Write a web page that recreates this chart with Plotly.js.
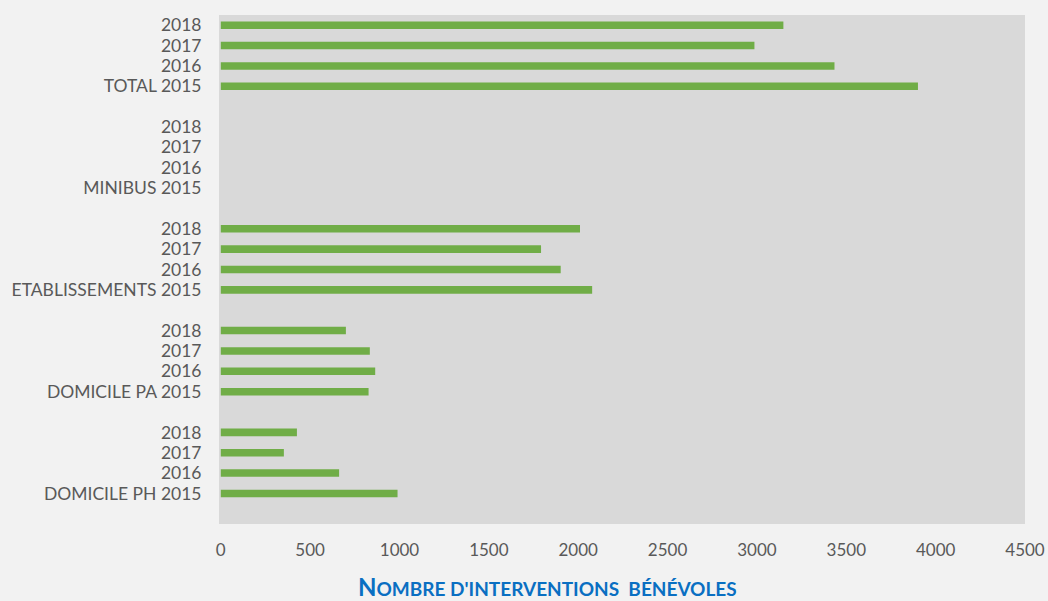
<!DOCTYPE html>
<html>
<head>
<meta charset="utf-8">
<script src="https://cdn.plot.ly/plotly-3.0.1.min.js"></script>
<style>html,body{margin:0;padding:0;background:#f2f2f2;}#chart{width:1048px;height:601px;}</style>
</head>
<body>
<div id="chart"></div>
<script>
// Category labels, bottom to top (blank rows separate groups)
const categories = [
  "", "DOMICILE PH 2015", "2016", "2017", "2018",
  "", "DOMICILE PA 2015", "2016", "2017", "2018",
  "", "ETABLISSEMENTS 2015", "2016", "2017", "2018",
  "", "MINIBUS 2015", "2016", "2017", "2018",
  "", "TOTAL 2015", "2016", "2017", "2018"
];
// Number of volunteer interventions (null = spacer row)
const values = [
  null, 989, 662, 353, 426,
  null, 827, 864, 834, 700,
  null, 2078, 1902, 1792, 2010,
  null, 0, 0, 0, 0,
  null, 3901, 3434, 2986, 3148
];
const xTicks = [0, 500, 1000, 1500, 2000, 2500, 3000, 3500, 4000, 4500];
const xTitle = "N<span style=\"font-size:19px\">OMBRE D'INTERVENTIONS&nbsp; BÉNÉVOLES</span>";

const positions = categories.map((c, i) => i);
const FONT = "Lato, 'Liberation Sans', Arial, sans-serif";

const trace = {
  type: "bar",
  orientation: "h",
  x: values,
  y: positions,
  width: 0.37,
  marker: { color: "#70ad47", line: { width: 0 } },
  hoverinfo: "x+text",
  text: categories,
  textposition: "none"
};

const layout = {
  width: 1048,
  height: 601,
  paper_bgcolor: "#f2f2f2",
  plot_bgcolor: "#d9d9d9",
  margin: { l: 219, r: 23, t: 15, b: 77 },
  showlegend: false,
  bargap: 0.6,
  font: { family: FONT, color: "#595959", size: 17.5 },
  xaxis: {
    range: [-10, 4500],
    tickvals: xTicks,
    ticktext: xTicks.map(String),
    showgrid: false,
    zeroline: false,
    showline: false,
    ticks: "outside",
    ticklen: 11,
    tickcolor: "rgba(0,0,0,0)",
    tickfont: { family: FONT, size: 17, color: "#595959" },
    fixedrange: true
  },
  yaxis: {
    range: [-0.5, 24.5],
    tickvals: positions,
    ticktext: categories,
    showgrid: false,
    zeroline: false,
    showline: false,
    ticks: "outside",
    ticklen: 13,
    tickcolor: "rgba(0,0,0,0)",
    tickfont: { family: FONT, size: 17.5, color: "#595959" },
    fixedrange: true
  },
  annotations: [{
    text: xTitle,
    xref: "paper", yref: "paper",
    x: 0.408, y: -0.122,
    xanchor: "center", yanchor: "middle",
    height: 22, valign: "middle", borderpad: 0,
    showarrow: false,
    font: { family: FONT, size: 24, color: "#0a6fc2", weight: "bold" }
  }]
};

Plotly.newPlot("chart", [trace], layout, { displayModeBar: false, staticPlot: true });
</script>
</body>
</html>
